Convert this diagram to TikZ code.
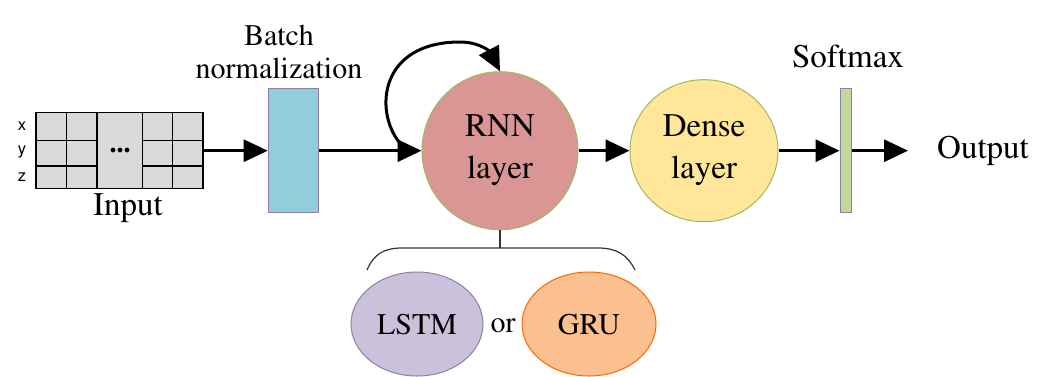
\documentclass[tikz,border=0pt]{standalone}
\usepackage[T1]{fontenc}
\usepackage{mathptmx}
\usepackage[scaled=0.92]{helvet}
\usepackage{xcolor}
\usepackage{tikz}
\usetikzlibrary{arrows.meta,positioning,shapes.geometric,calc}

\definecolor{gridgray}{HTML}{D9D9D9}
\definecolor{bnblue}{HTML}{92CDDC}
\definecolor{rnnred}{HTML}{D99694}
\definecolor{denseyellow}{HTML}{FFE699}
\definecolor{smgreen}{HTML}{C3D69B}
\definecolor{lstmpurple}{HTML}{CCC1DA}
\definecolor{grupeach}{HTML}{FAC090}
\definecolor{olive}{HTML}{9BBB59}
\definecolor{barline}{HTML}{8C7FA8}

\begin{document}
\begin{tikzpicture}[x=1pt, y=-1pt,
    flow/.style={-{Triangle[length=24pt,width=22pt]}, line width=3pt},
    layer/.style={ellipse, draw=olive, line width=1pt, align=center, inner sep=0pt,
        font=\fontsize{33}{42}\selectfont},
    bar/.style={draw=barline, line width=1.2pt, minimum height=124pt, inner sep=0pt},
    cell/.style={draw, line width=1.2pt}]
    \useasboundingbox (0,0) rectangle (1046,376);

    % Input sequence
    \node[cell, fill=gridgray, minimum width=167pt, minimum height=76pt, inner sep=0pt] (input) at (119.5,150.7) {};
    \foreach \gx in {66.7,97,142.7,172.7}
        \draw[cell] (\gx,112.7) -- (\gx,188.7);
    \foreach \gy in {140.7,166}
        \draw[cell] (36,\gy) -- (97,\gy) (142.7,\gy) -- (203,\gy);
    \node[font=\bfseries\fontsize{28}{28}\selectfont] (dots) at (120,150) {...};
    \node[font=\sffamily\fontsize{18}{18}\selectfont] (xlab) at (22,126) {x};
    \node[font=\sffamily\fontsize{18}{18}\selectfont] (ylab) at (22,152) {y};
    \node[font=\sffamily\fontsize{18}{18}\selectfont] (zlab) at (22,177) {z};
    \node[font=\fontsize{33}{33}\selectfont] (inlab) at (128,208) {Input};

    % Layers
    \node[bar, fill=bnblue, minimum width=50pt] (bn) at (293.3,150.7) {};
    \node[align=center, font=\fontsize{30}{33}\selectfont] (bnlab) at (279,52) {Batch\\normalization};
    \node[layer, fill=rnnred, minimum width=156pt, minimum height=158pt] (rnn) at (500,150.7) {RNN\\layer};
    \node[layer, fill=denseyellow, minimum width=148pt, minimum height=142pt] (dense) at (704,150.7) {Dense\\layer};
    \node[bar, fill=smgreen, minimum width=11.7pt] (sm) at (846,150.7) {};
    \node[font=\fontsize{33}{33}\selectfont] (smlab) at (848,56) {Softmax};
    \node[font=\fontsize{33}{33}\selectfont] (output) at (983,151) {Output};
    \coordinate (outtip) at (908,150.7);

    \draw[flow] (input.east) -- (bn.west);
    \draw[flow] (bn.east) -- (rnn.west);
    \draw[flow] (rnn.east) -- (dense.west);
    \draw[flow] (dense.east) -- (sm.west);
    \draw[flow] (sm.east) -- (outtip);

    % Recurrent loop
    \coordinate (loopstart) at (399,142);
    \draw[flow] (loopstart) .. controls (374,110) and (380,42) .. (460,42)
        .. controls (480,42) and (490,52) .. (rnn.north);

    % Cell type choice
    \coordinate (brace) at (500,248);
    \draw[line width=1.2pt, black!80] (rnn.south) -- (brace);
    \draw[line width=1.2pt, black!80] (367,270) .. controls (374,254) and (384,248) .. (402,248)
        -- (598,248) .. controls (616,248) and (627,254) .. (635,270);
    \node[ellipse, draw=barline, line width=1pt, fill=lstmpurple, minimum width=132pt, minimum height=104pt,
        font=\fontsize{30}{30}\selectfont] (lstm) at (417,324) {LSTM};
    \node[ellipse, draw=orange!80!red, line width=1pt, fill=grupeach, minimum width=134pt, minimum height=104pt,
        font=\fontsize{30}{30}\selectfont] (gru) at (589,324) {GRU};
    \node[font=\fontsize{30}{30}\selectfont] (orlab) at (503,326) {or};
\end{tikzpicture}
\end{document}
